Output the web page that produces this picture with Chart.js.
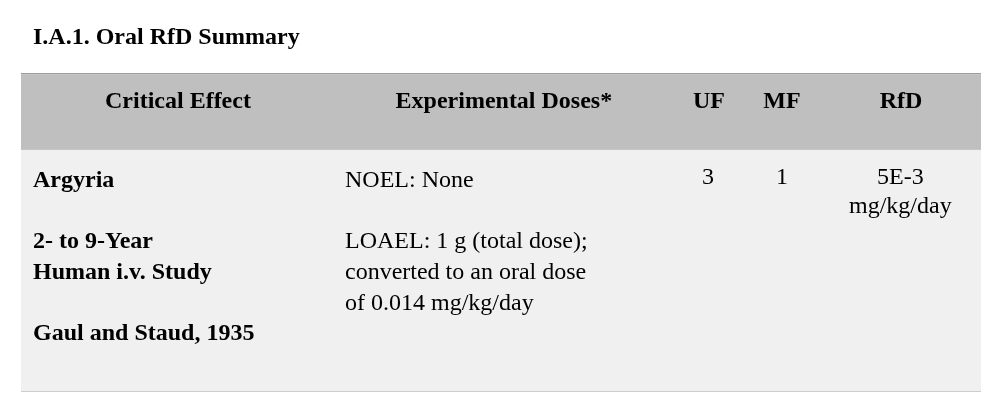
<!DOCTYPE html>
<html>
<head>
<meta charset="utf-8">
<script src="https://cdn.jsdelivr.net/npm/chart.js"></script>
<style>
html, body { margin: 0; padding: 0; background: #fff; }
#wrap { width: 998px; height: 411px; }
</style>
</head>
<body>
<div id="wrap"><canvas id="rfdTable"></canvas></div>
<script>
// table content
const tableTitle = 'I.A.1. Oral RfD Summary';
const headers = ['Critical Effect', 'Experimental Doses*', 'UF', 'MF', 'RfD'];
const criticalEffect = ['Argyria', '', '2- to 9-Year', 'Human i.v. Study', '', 'Gaul and Staud, 1935'];
const experimentalDoses = ['NOEL: None', '', 'LOAEL: 1 g (total dose);', 'converted to an oral dose', 'of 0.014 mg/kg/day'];
const uf = ['3'];
const mf = ['1'];
const rfd = ['5E-3', 'mg/kg/day'];

// layout: y in text lines, x in percent of table width
const headRows = 2.46, bodyRows = 7.87;
const headX = [16.35, 50.3, 71.67, 79.27, 91.67];
const bodyX = [1.25, 33.75, 71.56, 79.27, 91.6];
const bodyCols = [criticalEffect, experimentalDoses, uf, mf, rfd];

var serif = '"Liberation Serif", "Times New Roman", serif';

const tableText = {
    id: 'tableText',
    afterDatasetsDraw(chart) {
        var ctx = chart.ctx;
        var x = chart.scales.x, y = chart.scales.y;
        var px = function(p) { return x.getPixelForDecimal(p / 100); };
        ctx.save();
        ctx.fillStyle = '#000';
        ctx.textBaseline = 'alphabetic';

        ctx.font = 'bold 24px ' + serif;
        ctx.textAlign = 'left';
        ctx.fillText(tableTitle, px(1.25), y.getPixelForValue(-0.98));

        ctx.textAlign = 'center';
        headers.forEach(function(h, i) {
            ctx.fillText(h, px(headX[i]), y.getPixelForValue(1.11));
        });

        bodyCols.forEach(function(lines, c) {
            var wide = c < 2;
            ctx.font = (c == 0 ? 'bold ' : '') + '24px ' + serif;
            ctx.textAlign = wide ? 'left' : 'center';
            var start = wide ? 3.68 : 3.58;
            var step = wide ? 1 : 0.945;
            lines.forEach(function(t, i) {
                if (t) ctx.fillText(t, px(bodyX[c]), y.getPixelForValue(start + i * step));
            });
        });
        ctx.restore();
    }
};

var data = {
    labels: ['summary'],
    datasets: [
        { label: 'header', data: [[0, headRows]], backgroundColor: '#bfbfbf' },
        { label: 'body', data: [[headRows, headRows + bodyRows]], backgroundColor: '#f0f0f0' }
    ]
};

var options = {
    responsive: true,
    maintainAspectRatio: false,
    animation: false,
    layout: { padding: { left: 21, right: 17, top: 74, bottom: 20 } },
    datasets: { bar: { barPercentage: 1, categoryPercentage: 1, grouped: false, borderWidth: 0 } },
    plugins: { legend: { display: false }, tooltip: { enabled: false } },
    scales: {
        x: { display: false },
        y: {
            reverse: true,
            min: 0,
            max: headRows + bodyRows,
            z: 1,
            afterBuildTicks: function(s) {
                s.ticks = [0, headRows, headRows + bodyRows].map(function(v) { return { value: v }; });
            },
            ticks: { display: false },
            border: { display: false },
            grid: { color: '#9c9c9c', lineWidth: 1.5, drawTicks: false }
        }
    }
};

new Chart(document.getElementById('rfdTable'), {
    type: 'bar',
    data: data,
    options: options,
    plugins: [tableText]
});
</script>
</body>
</html>
